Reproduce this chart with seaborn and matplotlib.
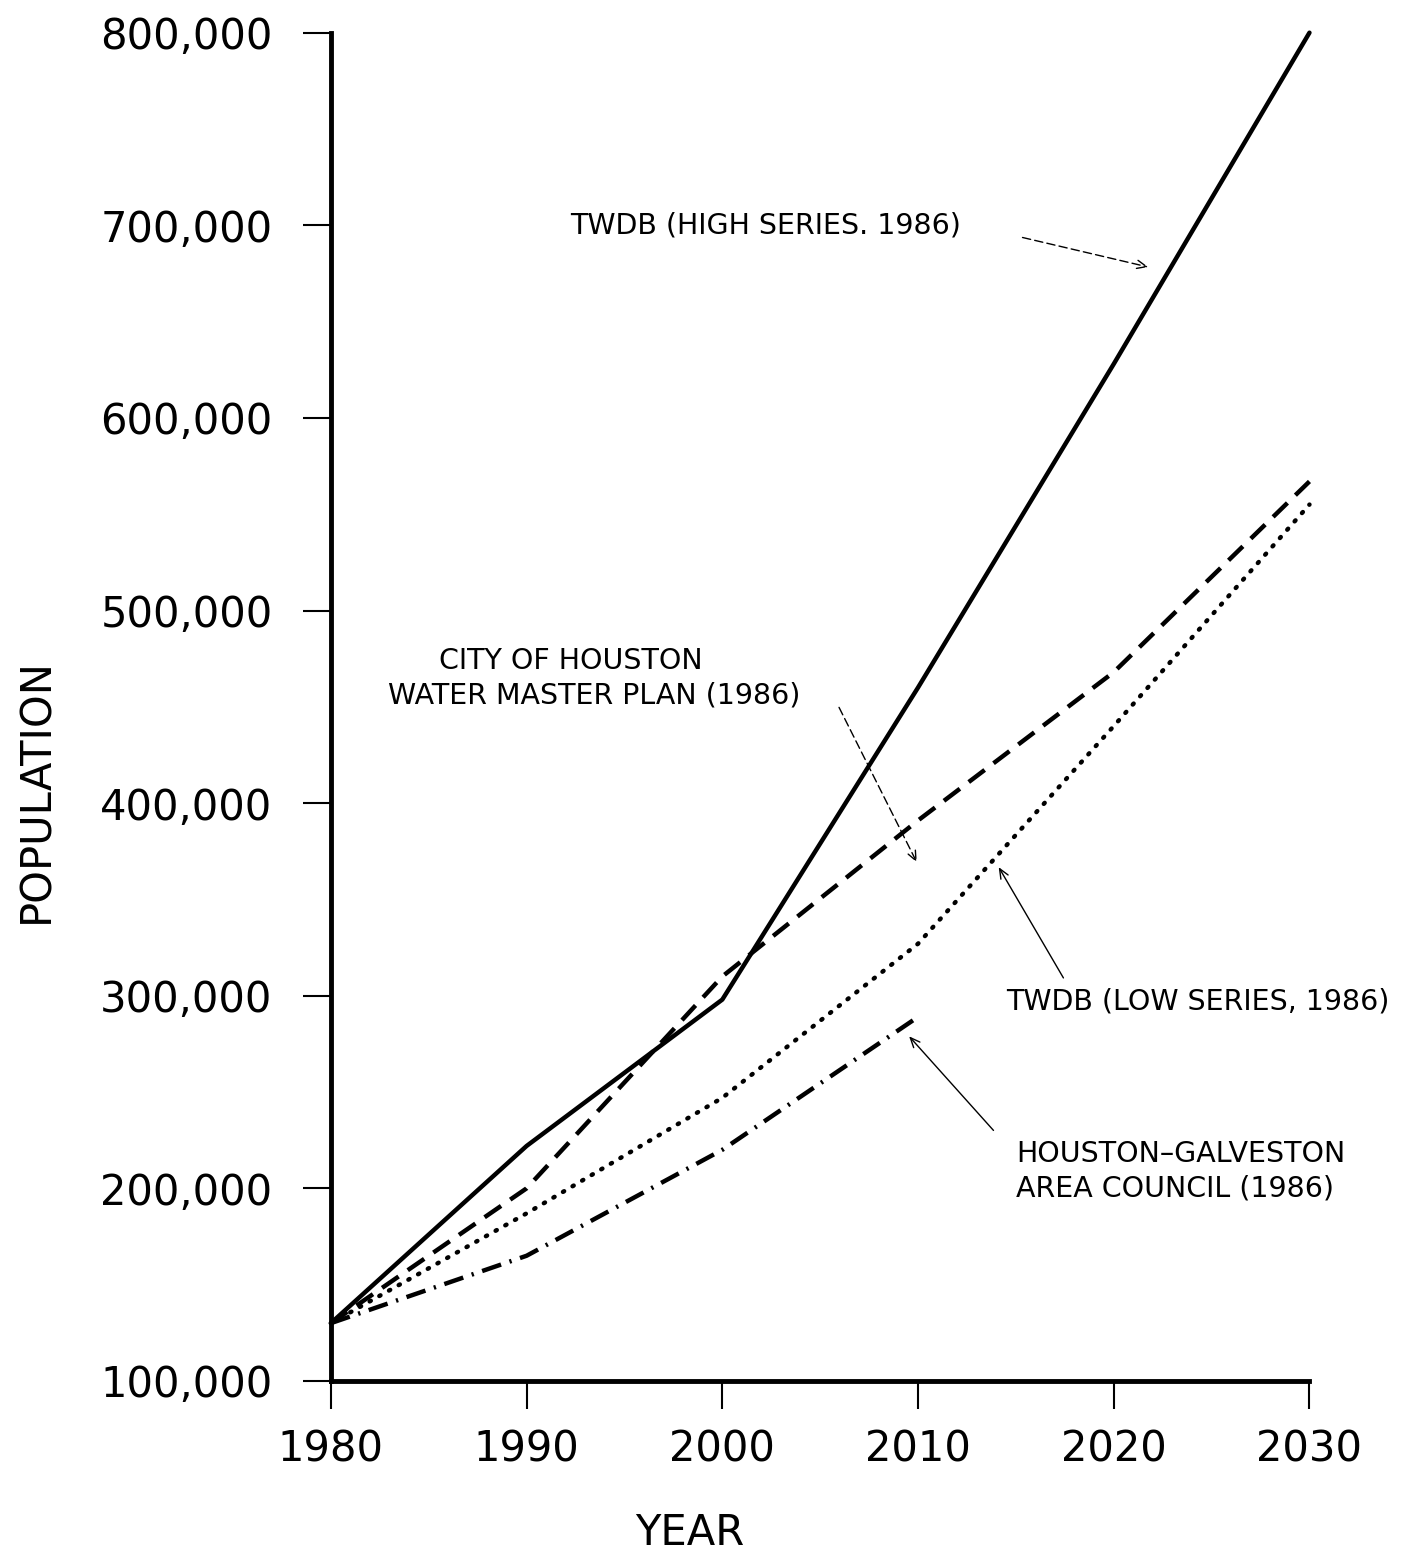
import matplotlib
matplotlib.use("Agg")
import matplotlib.pyplot as plt
import seaborn as sns
import pandas as pd

years = [1980, 1990, 2000, 2010, 2020, 2030]
twdb_high = [130000, 222000, 298000, 460000, 628000, 800000]
city_houston = [130000, 200000, 310000, 391000, 468000, 567000]
twdb_low = [130000, 187000, 247000, 327000, 440000, 555000]
hgac_years = [1980, 1990, 2000, 2010]
hgac = [130000, 165000, 220000, 289000]

x_ticks = [1980, 1990, 2000, 2010, 2020, 2030]
y_ticks = [100000, 200000, 300000, 400000, 500000, 600000, 700000, 800000]
y_labels = ["100,000", "200,000", "300,000", "400,000", "500,000", "600,000", "700,000", "800,000"]

sns.set_style("ticks")
plt.rcParams['font.family'] = ['DejaVu Sans']
plt.rcParams['text.color'] = 'black'

fig = plt.figure(figsize=(14.02, 15.56), dpi=100)
ax = fig.add_axes([0.236, 0.1125, 0.698, 0.8665])

df_high = pd.DataFrame({"year": years, "pop": twdb_high})
df_city = pd.DataFrame({"year": years, "pop": city_houston})
df_low = pd.DataFrame({"year": years, "pop": twdb_low})
df_hgac = pd.DataFrame({"year": hgac_years, "pop": hgac})

sns.lineplot(data=df_high, x="year", y="pop", ax=ax, color="black", lw=3.2, linestyle="-")
sns.lineplot(data=df_city, x="year", y="pop", ax=ax, color="black", lw=3.2)
ax.lines[-1].set_dashes([4.5, 2.5])
sns.lineplot(data=df_low, x="year", y="pop", ax=ax, color="black", lw=3.2)
ax.lines[-1].set_linestyle((0, (0.3, 2.2)))
ax.lines[-1].set_dash_capstyle("round")
sns.lineplot(data=df_hgac, x="year", y="pop", ax=ax, color="black", lw=3.2)
ax.lines[-1].set_dashes([4.5, 2.0, 0.5, 2.0])
for ln in ax.lines:
    ln.set_clip_on(False)

ax.set_xlim(1980, 2030)
ax.set_ylim(100000, 800000)
ax.set_xticks(x_ticks)
ax.set_xticklabels([str(v) for v in x_ticks], fontsize=30, color="black")
ax.set_yticks(y_ticks)
ax.set_yticklabels(y_labels, fontsize=30, color="black")
ax.tick_params(axis="both", direction="out", length=20, width=1.5, color="black", pad=14)
ax.tick_params(axis="y", pad=22)
for s in ["top", "right"]:
    ax.spines[s].set_visible(False)
for s in ["left", "bottom"]:
    ax.spines[s].set_linewidth(3.5)
    ax.spines[s].set_color("black")

ax.set_xlabel("")
ax.set_ylabel("")
fig.text(0.492, 0.0145, "YEAR", fontsize=30, color="black", ha="center", va="center")
fig.text(0.026, 0.492, "POPULATION", fontsize=30, color="black", ha="center", va="center", rotation=90)

tkw = dict(fontsize=20.5, color="black")
ax.text(1992.2, 700000, "TWDB (HIGH SERIES. 1986)", ha="left", va="center", **tkw)
ax.text(1985.5, 474000, "CITY OF HOUSTON", ha="left", va="center", **tkw)
ax.text(1982.9, 456000, "WATER MASTER PLAN (1986)", ha="left", va="center", **tkw)
ax.text(2014.5, 297000, "TWDB (LOW SERIES, 1986)", ha="left", va="center", **tkw)
ax.text(2015.0, 218000, "HOUSTON\u2013GALVESTON", ha="left", va="center", **tkw)
ax.text(2015.0, 200000, "AREA COUNCIL (1986)", ha="left", va="center", **tkw)

akw = dict(arrowstyle="->,head_length=0.7,head_width=0.3", color="black", lw=1.0)
ax.annotate("", xy=(2021.9, 678000), xytext=(2015.2, 694000), arrowprops=dict(**akw, linestyle=(0, (6, 3))))
ax.annotate("", xy=(2010.0, 368000), xytext=(2005.9, 451000), arrowprops=dict(**akw, linestyle=(0, (6, 3))))
ax.annotate("", xy=(2014.05, 368000), xytext=(2017.5, 308000), arrowprops=dict(**akw))
ax.annotate("", xy=(2009.45, 280000), xytext=(2013.95, 229000), arrowprops=dict(**akw))

fig.savefig("out.png", dpi=100, facecolor="white")
